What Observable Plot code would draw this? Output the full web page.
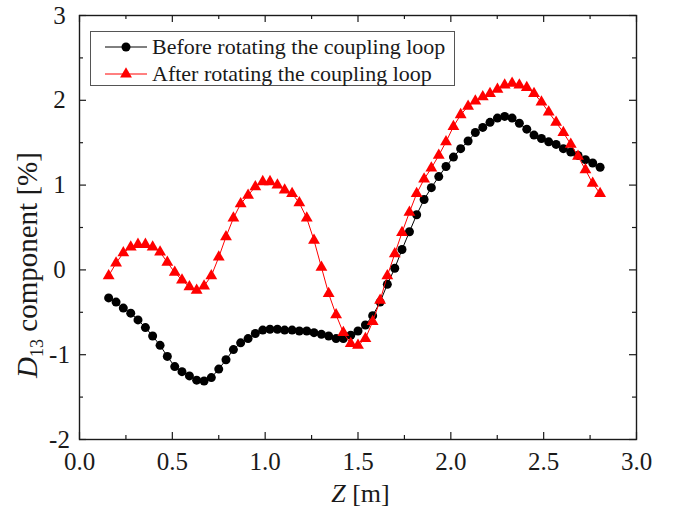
<!DOCTYPE html>
<html><head><meta charset="utf-8">
<script src="https://cdn.jsdelivr.net/npm/d3@7"></script>
<script src="https://cdn.jsdelivr.net/npm/@observablehq/plot@0.6"></script>
<style>
html,body{margin:0;padding:0;background:#fff;}
#chart{width:677px;height:513px;}
</style></head><body><div id="chart"></div>
<script>
// Z positions [m]
const zValues = [0.157,0.197,0.236,0.276,0.315,0.355,0.394,0.434,0.473,0.513,0.552,0.592,0.631,0.671,0.710,0.750,0.789,0.829,0.868,0.908,0.947,0.987,1.026,1.066,1.105,1.145,1.184,1.224,1.263,1.303,1.342,1.382,1.421,1.461,1.500,1.540,1.579,1.619,1.658,1.698,1.737,1.777,1.816,1.856,1.895,1.935,1.974,2.014,2.053,2.093,2.132,2.172,2.211,2.251,2.290,2.330,2.369,2.409,2.448,2.488,2.527,2.567,2.606,2.646,2.685,2.725,2.764,2.804];
// D13 component [%] before rotating the coupling loop
const beforeValues = [-0.33,-0.38,-0.45,-0.51,-0.59,-0.68,-0.78,-0.89,-1.02,-1.14,-1.20,-1.25,-1.30,-1.31,-1.27,-1.17,-1.06,-0.94,-0.86,-0.81,-0.75,-0.71,-0.70,-0.70,-0.71,-0.71,-0.72,-0.72,-0.74,-0.76,-0.78,-0.81,-0.81,-0.77,-0.72,-0.65,-0.54,-0.38,-0.17,0.02,0.24,0.45,0.65,0.83,0.97,1.10,1.22,1.33,1.43,1.52,1.62,1.68,1.74,1.79,1.81,1.79,1.73,1.66,1.59,1.55,1.51,1.48,1.43,1.39,1.35,1.30,1.26,1.21];
// D13 component [%] after rotating the coupling loop
const afterValues = [-0.07,0.08,0.20,0.27,0.30,0.30,0.27,0.21,0.09,-0.03,-0.12,-0.20,-0.24,-0.19,-0.07,0.15,0.39,0.61,0.78,0.88,0.98,1.04,1.04,1.00,0.94,0.90,0.79,0.61,0.35,0.03,-0.28,-0.53,-0.74,-0.87,-0.89,-0.81,-0.61,-0.36,-0.07,0.19,0.44,0.68,0.90,1.07,1.20,1.35,1.51,1.69,1.83,1.93,1.99,2.04,2.08,2.13,2.18,2.20,2.18,2.15,2.08,1.98,1.86,1.74,1.62,1.48,1.34,1.18,1.02,0.90];

const seriesNames = ["Before rotating the coupling loop", "After rotating the coupling loop"];
const xMajorTicks = [0, 0.5, 1, 1.5, 2, 2.5, 3];
const xMinorTicks = [0.25, 0.75, 1.25, 1.75, 2.25, 2.75];
const xTickLabels = ["0.0", "0.5", "1.0", "1.5", "2.0", "2.5", "3.0"];
const yMajorTicks = [-2, -1, 0, 1, 2, 3];
const yMinorTicks = [-1.5, -0.5, 0.5, 1.5, 2.5];
const yTickLabels = ["-2", "-1", "0", "1", "2", "3"];

const before = zValues.map((z, i) => ({z, v: beforeValues[i]}));
const after = zValues.map((z, i) => ({z, v: afterValues[i]}));
const xLabelRows = xMajorTicks.map((t, i) => ({t, label: xTickLabels[i]}));
const yLabelRows = yMajorTicks.map((t, i) => ({t, label: yTickLabels[i]}));

const W = 677, H = 513, mL = 79, mR = 41, mT = 15, mB = 74;
const plotW = W - mL - mR, plotH = H - mT - mB;
const ink = "#1a1a1a";
const FONT = "Liberation Serif, Times New Roman, serif";

function xTicks(values, len) {
  return [
    Plot.ruleX(values, {insetTop: plotH - len, stroke: ink, strokeWidth: 1.2}),
    Plot.ruleX(values, {insetBottom: plotH - len, stroke: ink, strokeWidth: 1.2})
  ];
}
function yTicks(values, len) {
  return [
    Plot.ruleY(values, {insetRight: plotW - len, stroke: ink, strokeWidth: 1.2}),
    Plot.ruleY(values, {insetLeft: plotW - len, stroke: ink, strokeWidth: 1.2})
  ];
}

const chart = Plot.plot({
  width: W, height: H,
  marginLeft: mL, marginRight: mR, marginTop: mT, marginBottom: mB,
  style: {background: "#fff"},
  x: {domain: [0, 3], axis: null},
  y: {domain: [-2, 3], axis: null},
  marks: [
    Plot.line(before, {x: "z", y: "v", stroke: "#000", strokeWidth: 1}),
    Plot.dot(before, {x: "z", y: "v", r: 4.5, fill: "#000", stroke: "none"}),
    Plot.line(after, {x: "z", y: "v", stroke: "#ff0000", strokeWidth: 1}),
    Plot.dot(after, {x: "z", y: "v", symbol: "triangle", r: 4.4, fill: "#ff0000", stroke: "none"}),
    ...xTicks(xMajorTicks, 7),
    ...xTicks(xMinorTicks, 4),
    ...yTicks(yMajorTicks, 7),
    ...yTicks(yMinorTicks, 4),
    Plot.frame({stroke: ink, strokeWidth: 1.4}),
    Plot.text(xLabelRows, {x: "t", frameAnchor: "bottom", text: "label", dy: 22, fontSize: 25, fontFamily: FONT, fill: ink, lineAnchor: "middle", textAnchor: "middle"}),
    Plot.text(yLabelRows, {y: "t", frameAnchor: "left", text: "label", dx: -20, fontSize: 25, fontFamily: FONT, fill: ink, lineAnchor: "middle", textAnchor: "middle"})
  ]
});
document.getElementById("chart").appendChild(chart);

// Axis titles and legend (rich text)
const svg = d3.select(chart);
const sx = chart.scale("x");
const xt = svg.append("text").attr("x", (sx.apply(0) + sx.apply(3)) / 2 + 3).attr("y", 502)
  .attr("text-anchor", "middle").attr("font-family", FONT).attr("font-size", 26).attr("fill", ink);
xt.append("tspan").attr("font-style", "italic").text("Z");
xt.append("tspan").text(" [m]");

const yt = svg.append("text").attr("transform", `translate(37,265) rotate(-90)`)
  .attr("text-anchor", "middle").attr("font-family", FONT).attr("font-size", 29).attr("fill", ink);
yt.append("tspan").attr("font-style", "italic").text("D");
yt.append("tspan").attr("font-size", 18).attr("dy", 6).text("13");
yt.append("tspan").attr("dy", -6).text(" component [%]");

const lg = svg.append("g");
lg.append("rect").attr("x", 90.5).attr("y", 31.5).attr("width", 364).attr("height", 54)
  .attr("fill", "#fff").attr("stroke", "#555").attr("stroke-width", 1);
const rows = [{y: 47, color: "#000", sym: d3.symbolCircle, size: Math.PI * 4.5 * 4.5},
              {y: 74, color: "#ff0000", sym: d3.symbolTriangle, size: Math.PI * 4.4 * 4.4}];
rows.forEach((r, i) => {
  lg.append("line").attr("x1", 105).attr("x2", 147).attr("y1", r.y).attr("y2", r.y).attr("stroke", r.color).attr("stroke-width", 1);
  lg.append("path").attr("d", d3.symbol(r.sym, r.size)()).attr("transform", `translate(126,${r.y})`).attr("fill", r.color);
  lg.append("text").attr("x", 152).attr("y", r.y + 7).attr("text-anchor", "start")
    .attr("font-family", FONT).attr("font-size", 22).attr("fill", ink).text(seriesNames[i]);
});
</script></body></html>
